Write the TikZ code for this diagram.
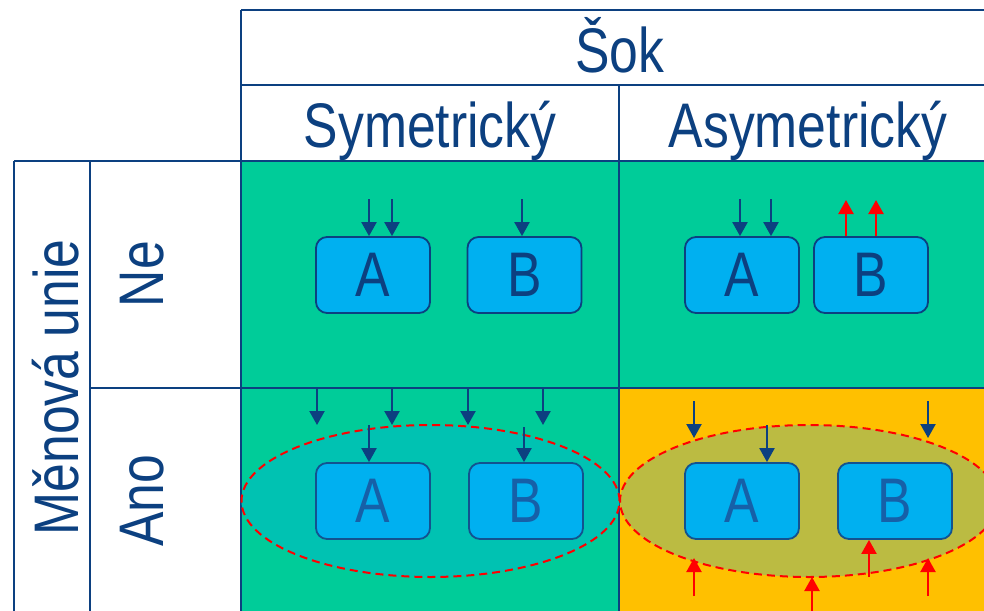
\documentclass[tikz,border=0pt]{standalone}
\usepackage{fontspec}
\setmainfont[FakeStretch=0.82]{Liberation Sans}
\usetikzlibrary{arrows.meta,shapes.geometric}
\definecolor{dblue}{RGB}{12,64,128}
\definecolor{mblue}{RGB}{22,96,168}
\definecolor{cgreen}{RGB}{0,204,153}
\definecolor{corange}{RGB}{255,192,0}
\definecolor{cbox}{RGB}{0,176,240}
\definecolor{eteal}{RGB}{0,194,178}
\definecolor{eolive}{RGB}{187,187,66}
\definecolor{cred}{RGB}{255,0,0}
\tikzset{
  big/.style={font=\fontsize{63}{70}\selectfont, text=dblue},
  cellbox/.style={draw=dblue, line width=1.8pt, fill=cbox, rounded corners=11pt,
    minimum width=114pt, minimum height=76pt, inner sep=0pt,
    font=\fontsize{63}{70}\selectfont, text=dblue},
  cellboxb/.style={cellbox, draw=mblue!85!black, text=mblue},
  grp/.style={ellipse, draw=cred, dash pattern=on 8pt off 5pt, line width=2pt,
    minimum width=378pt, minimum height=152pt, inner sep=0pt},
  barr/.style={draw=dblue, line width=2.2pt, -{Triangle[width=15pt,length=14pt]}},
  rarr/.style={draw=cred, line width=2.2pt, -{Triangle[width=15pt,length=14pt]}},
  grid/.style={draw=dblue, line width=2pt},
}
\begin{document}
\begin{tikzpicture}[x=1pt,y=-1pt]
\useasboundingbox (0,0) rectangle (984,610);
\clip (0,0) rectangle (984,610);
\fill[white] (0,0) rectangle (984,610);
% cells
\fill[cgreen] (241,161) rectangle (619,388);
\fill[cgreen] (619,161) rectangle (999,388);
\fill[cgreen] (241,388) rectangle (619,614);
\fill[corange] (619,388) rectangle (999,614);
% grid
\draw[grid] (241,10) -- (999,10);
\draw[grid, line width=1.4pt] (241,85) -- (999,85);
\draw[grid] (241,10) -- (241,614);
\draw[grid] (619,85) -- (619,614);
\draw[grid] (14,161) -- (999,161);
\draw[grid] (90,388) -- (999,388);
\draw[grid] (14,161) -- (14,614);
\draw[grid] (90,161) -- (90,614);
% headers
\node[big, anchor=base] (sok) at (620,72) {Šok};
\node[big, anchor=base] (sym) at (430,147) {Symetrický};
\node[big, anchor=base] (asym) at (808,147) {Asymetrický};
\node[big, anchor=base, rotate=90] (mu) at (78,387.5) {Měnová unie};
\node[big, anchor=base, rotate=90] (ne) at (163,274) {Ne};
\node[big, anchor=base, rotate=90] (ano) at (163,501) {Ano};
% ellipses
\node[grp, fill=eteal] (E1) at (430.5,501) {};
\node[grp, fill=eolive] (E2) at (809,501) {};
% boxes top row
\node[cellbox] (A1) at (373,275) {A};
\node[cellbox] (B1) at (524.5,275) {B};
\node[cellbox] (A2) at (742,275) {A};
\node[cellbox] (B2) at (871,275) {B};
% boxes bottom row
\node[cellboxb] (A3) at (373,501) {A};
\node[cellboxb] (B3) at (526,501) {B};
\node[cellboxb] (A4) at (742,501) {A};
\node[cellboxb] (B4) at (895,501) {B};
% top-left arrows
\coordinate (p1) at (369,199);
\coordinate (p2) at (392,199);
\coordinate (p3) at (522,199);
\draw[barr] (p1) -- (p1 |- A1.north);
\draw[barr] (p2) -- (p2 |- A1.north);
\draw[barr] (p3) -- (p3 |- B1.north);
% top-right arrows
\coordinate (q1) at (740,199);
\coordinate (q2) at (771,199);
\coordinate (q3) at (846,200);
\coordinate (q4) at (876,200);
\draw[barr] (q1) -- (q1 |- A2.north);
\draw[barr] (q2) -- (q2 |- A2.north);
\draw[rarr] (q3 |- B2.north) -- (q3);
\draw[rarr] (q4 |- B2.north) -- (q4);
% bottom-left arrows
\foreach \xx [count=\i] in {317,392,468,543}{
  \coordinate (s\i) at (\xx,388);
  \coordinate (t\i) at (\xx,425);
  \draw[barr] (s\i) -- (t\i);
}
\coordinate (u1) at (369,425);
\coordinate (u2) at (524,427);
\draw[barr] (u1) -- (u1 |- A3.north);
\draw[barr] (u2) -- (u2 |- B3.north);
% bottom-right arrows
\coordinate (v1) at (694,401);
\coordinate (v1e) at (694,438);
\coordinate (v2) at (928,401);
\coordinate (v2e) at (928,438);
\coordinate (v3) at (767,425);
\draw[barr] (v1) -- (v1e);
\draw[barr] (v2) -- (v2e);
\draw[barr] (v3) -- (v3 |- A4.north);
\coordinate (w1) at (694,596);
\coordinate (w1e) at (694,558);
\coordinate (w2) at (812,616);
\coordinate (w2e) at (812,577);
\coordinate (w3) at (928,596);
\coordinate (w3e) at (928,558);
\coordinate (w4) at (869,577);
\draw[rarr] (w1) -- (w1e);
\draw[rarr] (w2) -- (w2e);
\draw[rarr] (w3) -- (w3e);
\draw[rarr] (w4) -- (w4 |- B4.south);
\end{tikzpicture}
\end{document}
